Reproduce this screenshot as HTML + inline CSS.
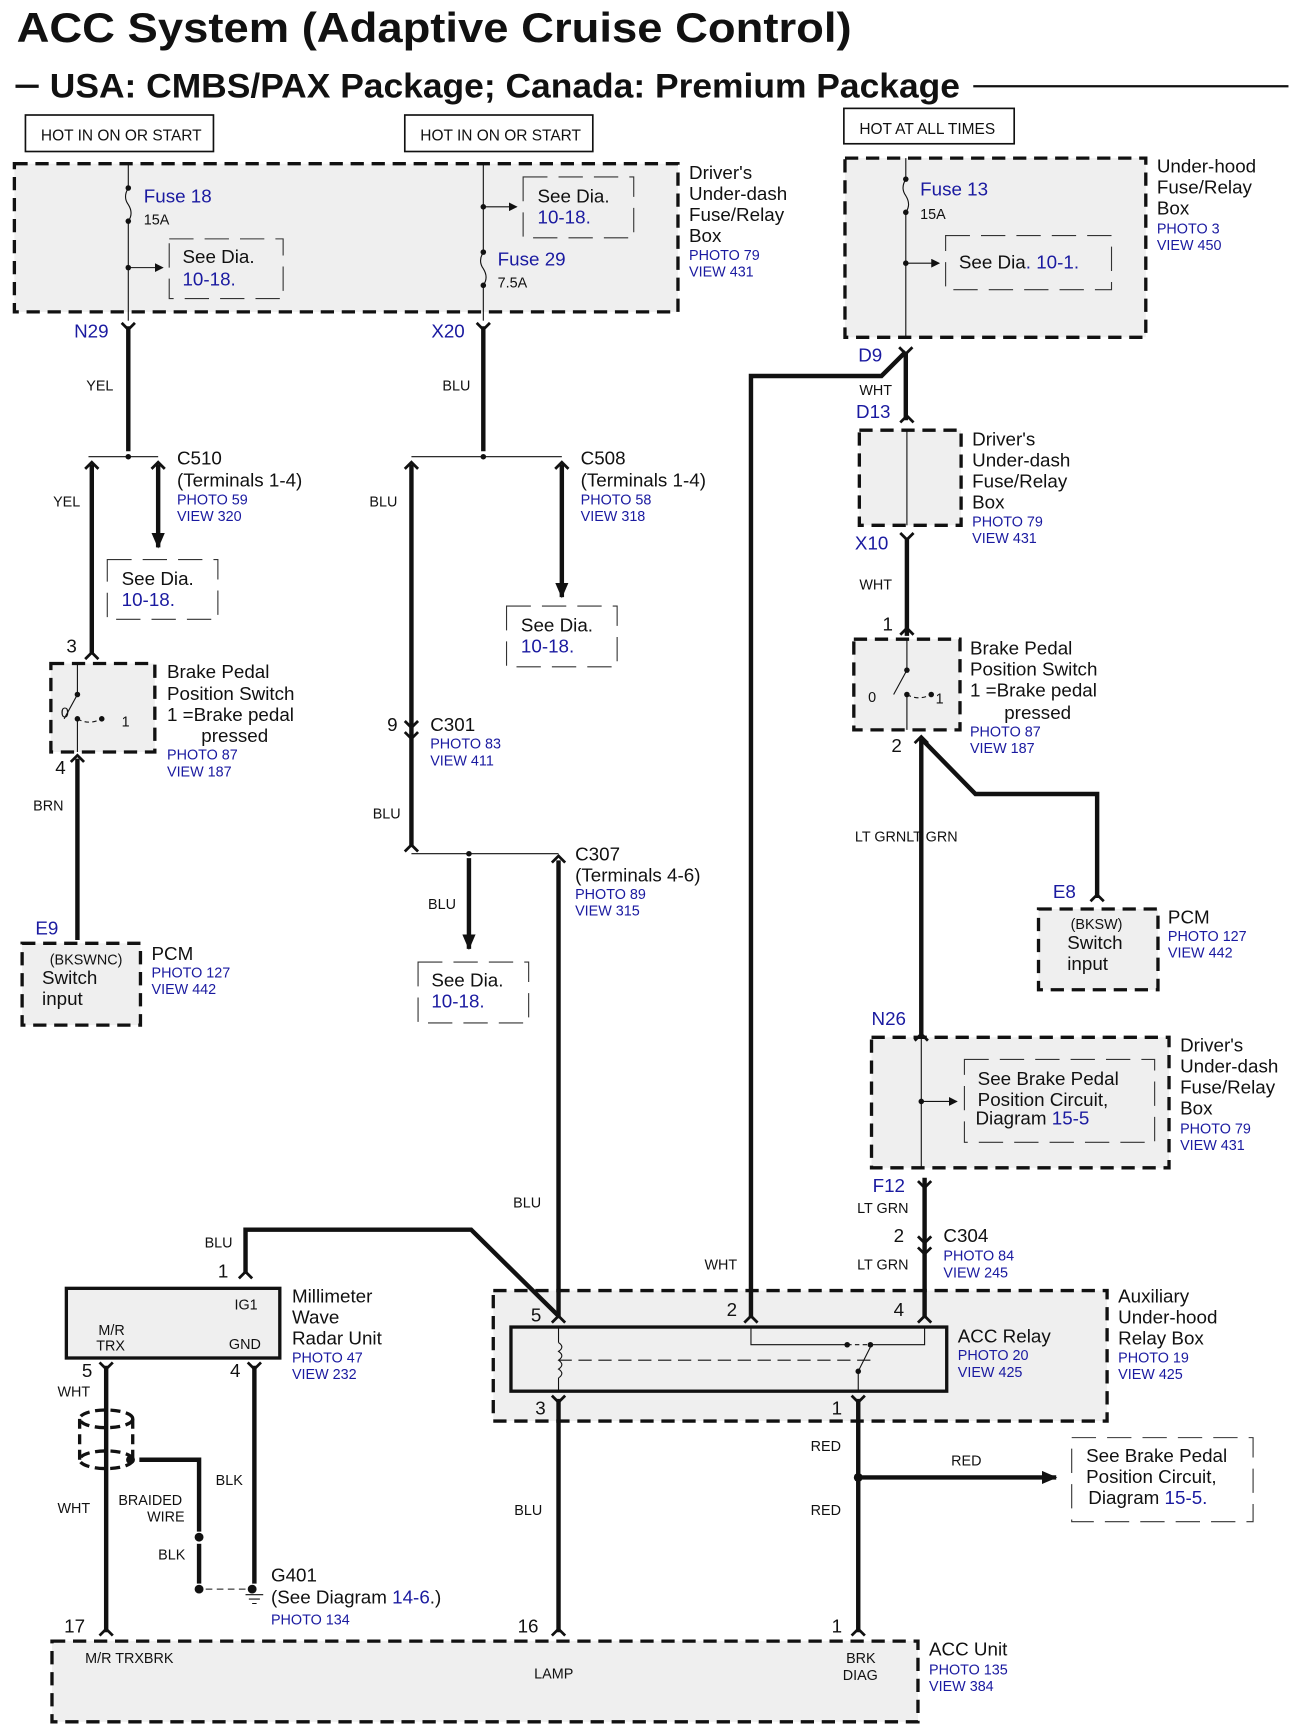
<!DOCTYPE html>
<html><head><meta charset="utf-8"><style>
html,body{margin:0;padding:0;background:#fff}
svg{display:block}
text{font-family:"Liberation Sans",Arial,sans-serif;fill:#111}
.b{fill:#1a1aa0}
.s{font-size:13px}
.m{font-size:17px}
.l{font-size:14px}
</style></head><body>
<svg width="1294" height="1734" viewBox="0 0 1170 1568" preserveAspectRatio="none" xmlns="http://www.w3.org/2000/svg">
<defs>
<marker id="ar" markerWidth="8" markerHeight="8" refX="7" refY="4" orient="auto" markerUnits="userSpaceOnUse"><path d="M0,0 L8,4 L0,8z" fill="#111"/></marker>
<marker id="ar2" markerWidth="14" markerHeight="12" refX="13" refY="6" orient="auto" markerUnits="userSpaceOnUse"><path d="M0,0 L14,6 L0,12z" fill="#111"/></marker>
</defs>
<g fill="#111" stroke="none">
<text x="15" y="38" textLength="755" lengthAdjust="spacingAndGlyphs" style="font-size:38px;font-weight:bold">ACC System (Adaptive Cruise Control)</text>
<text x="45" y="88" textLength="823" lengthAdjust="spacingAndGlyphs" style="font-size:31px;font-weight:bold">USA: CMBS/PAX Package; Canada: Premium Package</text>
</g>
<line x1="14" y1="78" x2="35" y2="78" stroke="#111" stroke-width="3"/>
<line x1="880" y1="78" x2="1165" y2="78" stroke="#111" stroke-width="2"/>

<g fill="none" stroke="#111" stroke-width="1.5">
<rect x="23" y="104" width="170" height="33"/>
<rect x="366" y="104" width="170" height="33"/>
<rect x="763" y="98" width="154" height="32"/>
</g>
<text x="37" y="127" class="l">HOT IN ON OR START</text>
<text x="380" y="127" class="l">HOT IN ON OR START</text>
<text x="777" y="121" class="l">HOT AT ALL TIMES</text>

<g fill="#efefef" stroke="#111" stroke-width="3" stroke-dasharray="12,7">
<rect x="13" y="148" width="600" height="134"/>
<rect x="764" y="143" width="272" height="162"/>
<rect x="777" y="389" width="92" height="86"/>
<rect x="46" y="600" width="94" height="80"/>
<rect x="772" y="578" width="96" height="82"/>
<rect x="20" y="853" width="107" height="74"/>
<rect x="939" y="822" width="108" height="73"/>
<rect x="788" y="938" width="269" height="118"/>
<rect x="446" y="1167" width="555" height="118"/>
<rect x="47" y="1484" width="783" height="73"/>
</g>
<rect x="60" y="1165" width="193" height="63" fill="#efefef" stroke="#111" stroke-width="3"/>
<rect x="462" y="1200" width="394" height="58" fill="#efefef" stroke="#111" stroke-width="3"/>

<g fill="none" stroke="#333" stroke-width="1" stroke-dasharray="22,10">
<rect x="153" y="216" width="103" height="54"/>
<rect x="473" y="160" width="100" height="55"/>
<rect x="855" y="213" width="150" height="49"/>
<rect x="97" y="506" width="100" height="54"/>
<rect x="458" y="548" width="100" height="55"/>
<rect x="378" y="870" width="100" height="55"/>
<rect x="872" y="958" width="172" height="75"/>
<rect x="969" y="1300" width="164" height="76"/>
</g>

<g fill="none" stroke="#111" stroke-width="1">
<line x1="116" y1="148" x2="116" y2="170"/><path d="M116,170 q-5,8 0,15 q5,8 0,15"/><line x1="116" y1="200" x2="116" y2="290"/>
<line x1="116" y1="242" x2="147" y2="242" marker-end="url(#ar)"/>
<line x1="437" y1="148" x2="437" y2="228"/><path d="M437,228 q-5,8 0,15 q5,8 0,15"/><line x1="437" y1="258" x2="437" y2="290"/>
<line x1="437" y1="187" x2="467" y2="187" marker-end="url(#ar)"/>
<line x1="819" y1="143" x2="819" y2="162"/><path d="M819,162 q-5,8 0,15 q5,8 0,15"/><line x1="819" y1="192" x2="819" y2="305"/>
<line x1="819" y1="238" x2="849" y2="238" marker-end="url(#ar)"/>
<line x1="820" y1="389" x2="820" y2="475"/>
<line x1="80" y1="413" x2="143" y2="413"/>
<line x1="372" y1="413" x2="508" y2="413"/>
<line x1="372" y1="772" x2="505" y2="772"/>
<line x1="833" y1="938" x2="833" y2="1056"/>
<line x1="833" y1="996" x2="865" y2="996" marker-end="url(#ar)"/>
<path d="M70,600 L70,628 L58,650 M70,650 L70,680"/>
<path d="M70,650 Q80,656 92,650" stroke-dasharray="4,3"/>
<path d="M820,578 L820,606 L808,628 M820,628 L820,660"/>
<path d="M820,628 Q830,634 842,628" stroke-dasharray="4,3"/>
<line x1="505" y1="1200" x2="505" y2="1214"/><path d="M505,1214 q6,4 0,8 q6,4 0,8 q6,4 0,8 q6,4 0,8"/><line x1="505" y1="1246" x2="505" y2="1258"/>
<line x1="505" y1="1230" x2="790" y2="1230" stroke-dasharray="12,6"/>
<path d="M679,1200 L679,1216 L766,1216"/>
<path d="M766,1216 L785,1216" stroke-dasharray="4,3"/>
<path d="M785,1216 L836,1216 L836,1200"/>
<path d="M776,1258 L776,1240 L787,1218"/>
<line x1="186" y1="1437" x2="222" y2="1437" stroke-dasharray="6,4"/>
<path d="M222,1442 h16 M225,1446 h10 M228,1450 h4"/>
</g>
<g fill="#111">
<circle cx="116" cy="170" r="2.5"/><circle cx="116" cy="200" r="2.5"/><circle cx="116" cy="242" r="2.5"/>
<circle cx="437" cy="228" r="2.5"/><circle cx="437" cy="258" r="2.5"/><circle cx="437" cy="187" r="2.5"/>
<circle cx="819" cy="162" r="2.5"/><circle cx="819" cy="192" r="2.5"/><circle cx="819" cy="238" r="2.5"/>
<circle cx="116" cy="413" r="2.5"/><circle cx="437" cy="413" r="2.5"/><circle cx="424" cy="772" r="2.5"/>
<circle cx="70" cy="628" r="2.5"/><circle cx="70" cy="650" r="2.5"/><circle cx="92" cy="650" r="2.5"/>
<circle cx="820" cy="606" r="2.5"/><circle cx="820" cy="628" r="2.5"/><circle cx="842" cy="628" r="2.5"/>
<circle cx="833" cy="996" r="2.5"/>
<circle cx="766" cy="1216" r="2.5"/><circle cx="787" cy="1216" r="2.5"/><circle cx="776" cy="1240" r="2.5"/>
<circle cx="776" cy="1336" r="4"/><circle cx="180" cy="1390" r="4"/><circle cx="180" cy="1437" r="4"/><circle cx="228" cy="1437" r="4"/><circle cx="118" cy="1320" r="4"/>
</g>

<g fill="none" stroke="#111" stroke-width="4">
<line x1="116" y1="295" x2="116" y2="408"/>
<line x1="437" y1="295" x2="437" y2="408"/>
<line x1="83" y1="420" x2="83" y2="592"/>
<line x1="143" y1="420" x2="143" y2="495" marker-end="url(#ar2)"/>
<line x1="372" y1="420" x2="372" y2="766"/>
<line x1="508" y1="420" x2="508" y2="540" marker-end="url(#ar2)"/>
<line x1="70" y1="686" x2="70" y2="850"/>
<line x1="424" y1="776" x2="424" y2="858" marker-end="url(#ar2)"/>
<line x1="505" y1="778" x2="505" y2="1192"/>
<path d="M819,318 L819,380"/>
<path d="M819,318 L797,340 L679,340 L679,1192"/>
<line x1="820" y1="487" x2="820" y2="575"/>
<line x1="833" y1="668" x2="833" y2="935"/>
<path d="M833,668 L882,718 L992,718 L992,812"/>
<line x1="836" y1="1065" x2="836" y2="1192"/>
<path d="M222,1152 L222,1112 L426,1112 L505,1190"/>
<line x1="96" y1="1235" x2="96" y2="1476"/>
<path d="M126,1320 L180,1320 L180,1385"/>
<line x1="180" y1="1396" x2="180" y2="1432"/>
<line x1="230" y1="1235" x2="230" y2="1432"/>
<line x1="505" y1="1265" x2="505" y2="1476"/>
<line x1="776" y1="1265" x2="776" y2="1476"/>
<line x1="776" y1="1336" x2="955" y2="1336" marker-end="url(#ar2)"/>
</g>
<g fill="none" stroke="#111" stroke-width="3" stroke-dasharray="9,5">
<ellipse cx="96" cy="1283" rx="24" ry="8"/>
<ellipse cx="96" cy="1320" rx="24" ry="8"/>
<line x1="72" y1="1283" x2="72" y2="1320"/>
<line x1="120" y1="1283" x2="120" y2="1320"/>
</g>
<g fill="none" stroke="#111" stroke-width="2.5">
<path d="M110,292 l6,6 l6,-6 M431,292 l6,6 l6,-6 M813,314 l6,6 l6,-6 M814,482 l6,6 l6,-6"/>
<path d="M77,424 l6,-6 l6,6 M137,424 l6,-6 l6,6 M366,424 l6,-6 l6,6 M502,424 l6,-6 l6,6"/>
<path d="M77,596 l6,-6 l6,6 M64,689 l6,-6 l6,6 M814,574 l6,-6 l6,6 M827,672 l6,-6 l6,6"/>
<path d="M366,652 l6,6 l6,-6 M366,662 l6,6 l6,-6 M366,770 l6,-6 l6,6 M499,780 l6,-6 l6,6"/>
<path d="M814,382 l6,-6 l6,6 M986,815 l6,-6 l6,6 M827,941 l6,-6 l6,6 M830,1068 l6,6 l6,-6 M830,1118 l6,6 l6,-6 M830,1128 l6,6 l6,-6"/>
<path d="M216,1156 l6,-6 l6,6 M90,1232 l6,6 l6,-6 M224,1232 l6,6 l6,-6"/>
<path d="M499,1196 l6,-6 l6,6 M673,1196 l6,-6 l6,6 M830,1196 l6,-6 l6,6 M499,1262 l6,6 l6,-6 M770,1262 l6,6 l6,-6"/>
<path d="M90,1479 l6,-6 l6,6 M499,1479 l6,-6 l6,6 M770,1479 l6,-6 l6,6"/>
</g>

<g class="m">
<text x="130" y="183" class="b">Fuse 18</text>
<text x="165" y="238">See Dia.</text><text x="165" y="258" class="b">10-18.</text>
<text x="486" y="183">See Dia.</text><text x="486" y="202" class="b">10-18.</text>
<text x="450" y="240" class="b">Fuse 29</text>
<text x="623" y="162">Driver's</text><text x="623" y="181">Under-dash</text><text x="623" y="200">Fuse/Relay</text><text x="623" y="219">Box</text>
<text x="832" y="177" class="b">Fuse 13</text>
<text x="867" y="243">See Dia<tspan class="b">. 10-1.</tspan></text>
<text x="1046" y="156">Under-hood</text><text x="1046" y="175">Fuse/Relay</text><text x="1046" y="194">Box</text>
<text x="67" y="305" class="b">N29</text><text x="390" y="305" class="b">X20</text>
<text x="776" y="327" class="b">D9</text><text x="774" y="378" class="b">D13</text><text x="773" y="497" class="b">X10</text>
<text x="160" y="420">C510</text><text x="160" y="440">(Terminals 1-4)</text>
<text x="525" y="420">C508</text><text x="525" y="440">(Terminals 1-4)</text>
<text x="110" y="529">See Dia.</text><text x="110" y="548" class="b">10-18.</text>
<text x="471" y="571">See Dia.</text><text x="471" y="590" class="b">10-18.</text>
<text x="390" y="892">See Dia.</text><text x="390" y="911" class="b">10-18.</text>
<text x="879" y="403">Driver's</text><text x="879" y="422">Under-dash</text><text x="879" y="441">Fuse/Relay</text><text x="879" y="460">Box</text>
<text x="60" y="590">3</text><text x="50" y="700">4</text>
<text x="151" y="613">Brake Pedal</text><text x="151" y="633">Position Switch</text><text x="151" y="652">1 =Brake pedal</text><text x="182" y="671">pressed</text>
<text x="798" y="570">1</text><text x="806" y="680">2</text>
<text x="877" y="592">Brake Pedal</text><text x="877" y="611">Position Switch</text><text x="877" y="630">1 =Brake pedal</text><text x="908" y="650">pressed</text>
<text x="350" y="661">9</text><text x="389" y="661">C301</text>
<text x="520" y="778">C307</text><text x="520" y="797">(Terminals 4-6)</text>
<text x="32" y="845" class="b">E9</text><text x="952" y="812" class="b">E8</text>
<text x="38" y="890">Switch</text><text x="38" y="909">input</text><text x="137" y="868">PCM</text>
<text x="965" y="858">Switch</text><text x="965" y="877">input</text><text x="1056" y="835">PCM</text>
<text x="788" y="927" class="b">N26</text>
<text x="884" y="981">See Brake Pedal</text><text x="884" y="1000">Position Circuit,</text><text x="882" y="1017">Diagram <tspan class="b">15-5</tspan></text>
<text x="1067" y="951">Driver's</text><text x="1067" y="970">Under-dash</text><text x="1067" y="989">Fuse/Relay</text><text x="1067" y="1008">Box</text>
<text x="789" y="1078" class="b">F12</text>
<text x="808" y="1123">2</text><text x="853" y="1123">C304</text>
<text x="197" y="1155">1</text>
<text x="264" y="1178">Millimeter</text><text x="264" y="1197">Wave</text><text x="264" y="1216">Radar Unit</text>
<text x="480" y="1195">5</text><text x="657" y="1190">2</text><text x="808" y="1190">4</text><text x="484" y="1279">3</text><text x="752" y="1279">1</text>
<text x="866" y="1214">ACC Relay</text>
<text x="1011" y="1178">Auxiliary</text><text x="1011" y="1197">Under-hood</text><text x="1011" y="1216">Relay Box</text>
<text x="74" y="1245">5</text><text x="208" y="1245">4</text>
<text x="245" y="1430">G401</text><text x="245" y="1450">(See Diagram <tspan class="b">14-6</tspan>.)</text>
<text x="982" y="1322">See Brake Pedal</text><text x="982" y="1341">Position Circuit,</text><text x="984" y="1360">Diagram <tspan class="b">15-5.</tspan></text>
<text x="58" y="1476">17</text><text x="468" y="1476">16</text><text x="752" y="1476">1</text>
<text x="840" y="1497">ACC Unit</text>
</g>
<g class="s">
<text x="130" y="203">15A</text><text x="450" y="260">7.5A</text><text x="832" y="198">15A</text>
<text x="78" y="353">YEL</text><text x="400" y="353">BLU</text><text x="777" y="357">WHT</text>
<text x="48" y="458">YEL</text><text x="334" y="458">BLU</text><text x="777" y="533">WHT</text>
<text x="55" y="649">0</text><text x="110" y="657">1</text><text x="785" y="635">0</text><text x="846" y="636">1</text>
<text x="30" y="733">BRN</text><text x="337" y="740">BLU</text><text x="773" y="761">LT GRNLT GRN</text>
<text x="387" y="822">BLU</text><text x="45" y="872">(BKSWNC)</text><text x="968" y="840">(BKSW)</text>
<text x="775" y="1097">LT GRN</text><text x="775" y="1148">LT GRN</text><text x="464" y="1092">BLU</text>
<text x="185" y="1128">BLU</text><text x="637" y="1148">WHT</text>
<text x="212" y="1184">IG1</text><text x="89" y="1207">M/R</text><text x="87" y="1221">TRX</text><text x="207" y="1220">GND</text>
<text x="52" y="1263">WHT</text><text x="52" y="1368">WHT</text><text x="107" y="1361">BRAIDED</text><text x="133" y="1376">WIRE</text>
<text x="195" y="1343">BLK</text><text x="143" y="1410">BLK</text>
<text x="465" y="1370">BLU</text><text x="733" y="1312">RED</text><text x="733" y="1370">RED</text><text x="860" y="1325">RED</text>
<text x="77" y="1504">M/R TRXBRK</text><text x="483" y="1518">LAMP</text><text x="765" y="1504">BRK</text><text x="762" y="1519">DIAG</text>
</g>
<g class="s">
<text x="623" y="235" class="b">PHOTO 79</text><text x="623" y="250" class="b">VIEW 431</text>
<text x="1046" y="211" class="b">PHOTO 3</text><text x="1046" y="226" class="b">VIEW 450</text>
<text x="160" y="456" class="b">PHOTO 59</text><text x="160" y="471" class="b">VIEW 320</text>
<text x="525" y="456" class="b">PHOTO 58</text><text x="525" y="471" class="b">VIEW 318</text>
<text x="879" y="476" class="b">PHOTO 79</text><text x="879" y="491" class="b">VIEW 431</text>
<text x="151" y="687" class="b">PHOTO 87</text><text x="151" y="702" class="b">VIEW 187</text>
<text x="877" y="666" class="b">PHOTO 87</text><text x="877" y="681" class="b">VIEW 187</text>
<text x="389" y="677" class="b">PHOTO 83</text><text x="389" y="692" class="b">VIEW 411</text>
<text x="520" y="813" class="b">PHOTO 89</text><text x="520" y="828" class="b">VIEW 315</text>
<text x="137" y="884" class="b">PHOTO 127</text><text x="137" y="899" class="b">VIEW 442</text>
<text x="1056" y="851" class="b">PHOTO 127</text><text x="1056" y="866" class="b">VIEW 442</text>
<text x="1067" y="1025" class="b">PHOTO 79</text><text x="1067" y="1040" class="b">VIEW 431</text>
<text x="853" y="1140" class="b">PHOTO 84</text><text x="853" y="1155" class="b">VIEW 245</text>
<text x="264" y="1232" class="b">PHOTO 47</text><text x="264" y="1247" class="b">VIEW 232</text>
<text x="866" y="1230" class="b">PHOTO 20</text><text x="866" y="1245" class="b">VIEW 425</text>
<text x="1011" y="1232" class="b">PHOTO 19</text><text x="1011" y="1247" class="b">VIEW 425</text>
<text x="245" y="1469" class="b">PHOTO 134</text>
<text x="840" y="1514" class="b">PHOTO 135</text><text x="840" y="1529" class="b">VIEW 384</text>
</g>
</svg>
</body></html>
